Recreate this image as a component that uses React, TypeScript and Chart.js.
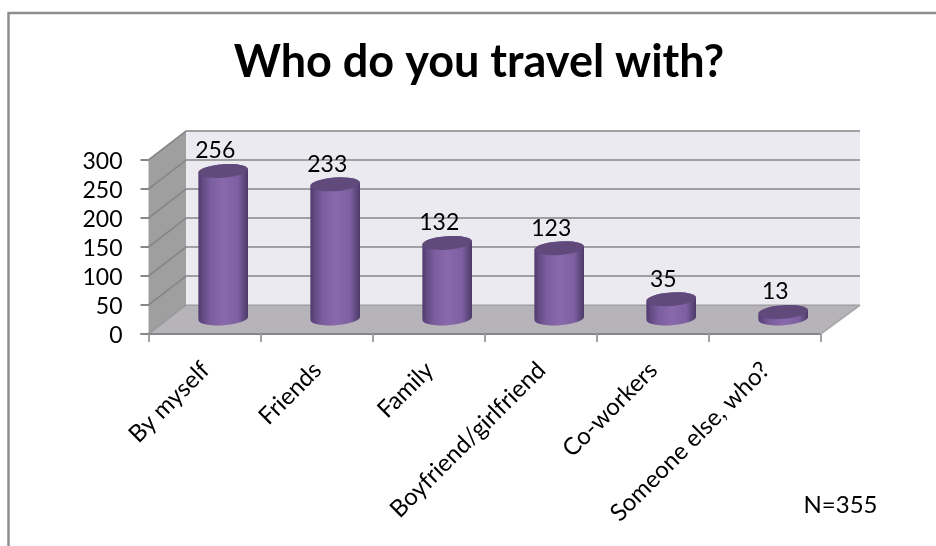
import React, { useEffect, useRef } from "react";
import { Chart, registerables } from "chart.js";

Chart.register(...registerables);

const categories = [
  "By myself",
  "Friends",
  "Family",
  "Boyfriend/girlfriend",
  "Co-workers",
  "Someone else, who?",
];
const responses = [256, 233, 132, 123, 35, 13];
const valueTicks = [0, 50, 100, 150, 200, 250, 300];
const titleText = "Who do you travel with?";
const sampleNote = "N=355";

const FONT = "Lato, 'Open Sans', sans-serif";
const GRID = "#878787";
const WALL_BACK = "#ECEAF1";
const WALL_SIDE = "#9F9FA0";
const FLOOR = "#B6B4B9";
const CAP = "#604A7B";

// Oblique projection of the box behind the plot
const DEPTH_X = 37.5;
const DEPTH_Y = 29;
const DEPTH_RIGHT = 39.5;
const CAP_RY = 6.8;
const CAP_TILT = (-4 * Math.PI) / 180;

function cylinderPath(el: any): Path2D {
  const rx = el.width / 2;
  const p = new Path2D();
  p.ellipse(el.x, el.y, rx, CAP_RY, CAP_TILT, Math.PI, 2 * Math.PI);
  p.ellipse(el.x, el.base, rx, CAP_RY, CAP_TILT, 0, Math.PI);
  p.closePath();
  return p;
}

function shadeFor(ctx: CanvasRenderingContext2D, cx: number, half: number) {
  const g = ctx.createLinearGradient(cx - half, 0, cx + half, 0);
  g.addColorStop(0, "#503C6E");
  g.addColorStop(0.1, "#664C86");
  g.addColorStop(0.25, "#7B5E9E");
  g.addColorStop(0.5, "#8969AC");
  g.addColorStop(0.8, "#7D60A1");
  g.addColorStop(0.92, "#5F4A7E");
  g.addColorStop(1, "#4C3968");
  return g;
}

const boxPlugin = {
  id: "box3d",
  beforeDraw(chart: any) {
    const { ctx, chartArea: a, scales } = chart;
    const y = scales.y;
    const y0 = y.getPixelForValue(0);
    const yTop = y.getPixelForValue(300);
    const backL = a.left + DEPTH_X;
    const backR = a.right + DEPTH_RIGHT;
    ctx.save();

    // Outer frame of the slide object, open on the right and at the bottom
    ctx.strokeStyle = "#8E8E8E";
    ctx.lineWidth = 2.5;
    ctx.beginPath();
    ctx.moveTo(8.5, 546);
    ctx.lineTo(8.5, 13);
    ctx.lineTo(936, 13);
    ctx.stroke();

    // Back wall
    ctx.fillStyle = WALL_BACK;
    ctx.fillRect(backL, yTop - DEPTH_Y, backR - backL, y0 - yTop);

    // Side wall
    ctx.fillStyle = WALL_SIDE;
    ctx.beginPath();
    ctx.moveTo(a.left, y0);
    ctx.lineTo(backL, y0 - DEPTH_Y);
    ctx.lineTo(backL, yTop - DEPTH_Y);
    ctx.lineTo(a.left, yTop);
    ctx.closePath();
    ctx.fill();

    // Floor
    ctx.fillStyle = FLOOR;
    ctx.beginPath();
    ctx.moveTo(a.left, y0);
    ctx.lineTo(backL, y0 - DEPTH_Y);
    ctx.lineTo(backR, y0 - DEPTH_Y);
    ctx.lineTo(a.right, y0);
    ctx.closePath();
    ctx.fill();

    // Grid lines wrap from the side wall onto the back wall
    ctx.strokeStyle = GRID;
    ctx.lineWidth = 1.6;
    for (const v of valueTicks) {
      const py = y.getPixelForValue(v);
      ctx.globalAlpha = v === 0 ? 0.55 : 1;
      ctx.beginPath();
      ctx.moveTo(a.left, py);
      ctx.lineTo(backL, py - DEPTH_Y);
      ctx.lineTo(backR, py - DEPTH_Y);
      ctx.stroke();
    }
    ctx.globalAlpha = 1;

    // Front and right edges of the floor
    ctx.lineWidth = 2;
    ctx.beginPath();
    ctx.moveTo(a.left - 8, y0);
    ctx.lineTo(a.right, y0);
    ctx.stroke();
    ctx.strokeStyle = "#A8A8A8";
    ctx.beginPath();
    ctx.moveTo(a.right, y0);
    ctx.lineTo(backR, y0 - DEPTH_Y);
    ctx.stroke();
    ctx.restore();
  },
  beforeDatasetsDraw(chart: any) {
    const { ctx } = chart;
    const bars = chart.getDatasetMeta(0).data;
    ctx.save();
    // Columns stand halfway back on the floor
    ctx.translate(DEPTH_X / 2, -DEPTH_Y / 2);
    const all = new Path2D();
    for (const el of bars) {
      const path = cylinderPath(el);
      ctx.fillStyle = shadeFor(ctx, el.x, el.width / 2);
      ctx.fill(path);
      all.addPath(path);
    }
    ctx.clip(all);
  },
  afterDatasetsDraw(chart: any) {
    const { ctx } = chart;
    const bars = chart.getDatasetMeta(0).data;
    ctx.restore();

    ctx.save();
    ctx.translate(DEPTH_X / 2, -DEPTH_Y / 2);
    for (const el of bars) {
      ctx.beginPath();
      ctx.ellipse(el.x, el.y, el.width / 2, CAP_RY, CAP_TILT, 0, 2 * Math.PI);
      ctx.fillStyle = CAP;
      ctx.fill();
    }
    ctx.restore();

    // Value labels above each column
    ctx.save();
    ctx.font = `23px ${FONT}`;
    ctx.fillStyle = "#000";
    ctx.textAlign = "center";
    ctx.textBaseline = "middle";
    bars.forEach((el: any, i: number) => {
      ctx.fillText(String(responses[i]), el.x + DEPTH_X / 2 - 8, el.y - DEPTH_Y / 2 - 20);
    });
    ctx.restore();

    // Respondent count, bottom right
    ctx.save();
    ctx.font = `24px ${FONT}`;
    ctx.fillStyle = "#000";
    ctx.textAlign = "center";
    ctx.textBaseline = "middle";
    ctx.fillText(sampleNote, 840.5, 505);
    ctx.restore();
  },
};

export default function App() {
  const canvasRef = useRef<HTMLCanvasElement | null>(null);

  useEffect(() => {
    const canvas = canvasRef.current;
    if (!canvas) return;
    const chart = new Chart(canvas, {
      type: "bar",
      data: {
        labels: categories,
        datasets: [
          {
            label: "Responses",
            data: responses,
            categoryPercentage: 1,
            barPercentage: 0.443,
            clip: false,
            backgroundColor: (c: any) => {
              const scaleX = c.chart.scales.x;
              const cx = scaleX && c.dataIndex !== undefined ? scaleX.getPixelForValue(c.dataIndex) : NaN;
              // Scales have no pixel range during the first option pass
              if (!Number.isFinite(cx)) return "#8969AC";
              return shadeFor(c.chart.ctx, cx, 24.8);
            },
            borderWidth: 0,
          },
        ],
      },
      options: {
        responsive: false,
        animation: false,
        layout: { padding: { left: 22, right: 0, top: 0, bottom: 0 } },
        plugins: {
          legend: { display: false },
          tooltip: { enabled: false },
          title: {
            display: true,
            text: titleText,
            color: "#000",
            font: { family: FONT, size: 45, weight: "bold", lineHeight: 1.2 },
            padding: { top: 35, bottom: 71 },
          },
        },
        scales: {
          x: {
            offset: true,
            grid: {
              offset: true,
              drawOnChartArea: false,
              tickLength: 8,
              color: "#A0A0A0",
              lineWidth: 2,
            },
            border: { display: false },
            ticks: {
              autoSkip: false,
              minRotation: 45,
              maxRotation: 45,
              padding: 14,
              labelOffset: 1,
              color: "#000",
              font: { family: FONT, size: 24 },
            },
            afterFit: (axis: any) => {
              axis.height = 212;
            },
          },
          y: {
            min: 0,
            max: 300,
            grid: {
              drawOnChartArea: false,
              tickLength: 8,
              color: GRID,
              lineWidth: 2,
            },
            border: { display: false },
            ticks: {
              autoSkip: false,
              stepSize: 50,
              padding: 18,
              labelOffset: 2,
              color: "#000",
              font: { family: FONT, size: 23 },
            },
            afterFit: (axis: any) => {
              axis.width = 126.5;
            },
          },
          // Empty axis that reserves the margin right of the plot
          margin: {
            position: "right",
            min: 0,
            max: 300,
            grid: { display: false },
            border: { display: false },
            ticks: { display: false },
            afterFit: (axis: any) => {
              axis.width = 115.5;
            },
          },
        },
      },
      plugins: [boxPlugin],
    } as any);
    return () => chart.destroy();
  }, []);

  return (
    <canvas
      ref={canvasRef}
      width={936}
      height={546}
      style={{ position: "absolute", left: 0, top: 0, display: "block" }}
    />
  );
}
